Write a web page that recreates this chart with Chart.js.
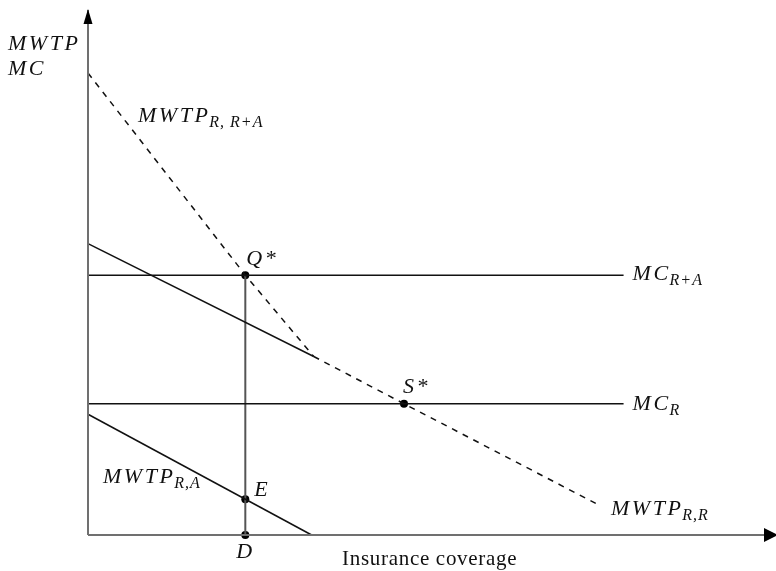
<!DOCTYPE html>
<html>
<head>
<meta charset="utf-8">
<script src="https://cdn.jsdelivr.net/npm/chart.js@4"></script>
<style>
  html, body { margin: 0; padding: 0; background: #fff; }
  #wrap { width: 776px; height: 571px; position: relative; }
</style>
</head>
<body>
<div id="wrap"><canvas id="c"></canvas></div>
<script>
// Insurance coverage (x) against marginal willingness to pay / marginal cost (y)
const coverageMax = 100;
const valueMax = 100;

// marginal cost levels (horizontal lines) and where they stop
const mcRplusA = 49.5;
const mcR = 25;
const mcEndX = 78.3;

// MWTP of the R type under pooling with A (dashed, steep part)
const mwtpRRplusAX = [0, 23, 33];
const mwtpRRplusAY = [88, 49.5, 34];
// MWTP of the R type under separation (dashed, flat part)
const mwtpRRX = [33, 46.2, 75];
const mwtpRRY = [34, 25, 5.5];
// solid demand line ending at the kink
const upperSolidX = [0, 33];
const upperSolidY = [55.5, 34];
// MWTP of R relative to A
const mwtpRAX = [0, 32.7];
const mwtpRAY = [23, 0];

// marked points
const markNames = ['Q*', 'S*', 'E', 'D'];
const markX = [23, 46.2, 23, 23];
const markY = [49.5, 25, 6.82, 0];

const pts = (xs, ys) => xs.map((x, i) => ({ x, y: ys[i] }));

const INK = '#111';
const AXIS = '#707070';
const serif = "'Liberation Serif', 'Times New Roman', serif";
const MAIN_FONT = 'italic 22px ' + serif;
const SUB_FONT = 'italic 16px ' + serif;

function lineSet(data, color, width, dash) {
  return {
    data, showLine: true, borderColor: color, borderWidth: width,
    borderDash: dash || [], pointRadius: 0, fill: false, clip: false,
    tension: 0
  };
}

function pix(chart, x, y) {
  return { x: chart.scales.x.getPixelForValue(x), y: chart.scales.y.getPixelForValue(y) };
}

// label: italic main text with optional italic subscript
function label(ctx, x, y, main, sub, align) {
  ctx.save();
  ctx.fillStyle = '#111';
  ctx.textBaseline = 'alphabetic';
  ctx.textAlign = 'left';
  ctx.font = MAIN_FONT;
  ctx.letterSpacing = '2.5px';
  const w = ctx.measureText(main).width;
  let subW = 0;
  if (sub) {
    ctx.font = SUB_FONT;
    ctx.letterSpacing = '1px';
    subW = ctx.measureText(sub).width;
  }
  const x0 = align === 'center' ? x - (w + subW) / 2 : x;
  ctx.font = MAIN_FONT;
  ctx.letterSpacing = '2.5px';
  ctx.fillText(main, x0, y);
  if (sub) {
    ctx.font = SUB_FONT;
    ctx.letterSpacing = '1px';
    ctx.fillText(sub, x0 + w - 1, y + 5);
  }
  ctx.restore();
}

const decorations = {
  id: 'decorations',
  afterDatasetsDraw(chart) {
    const ctx = chart.ctx;
    const a = chart.chartArea;
    const origin = pix(chart, 0, 0);
    const xEnd = pix(chart, coverageMax, 0);
    const yEnd = pix(chart, 0, valueMax);

    // arrow heads
    ctx.save();
    ctx.fillStyle = '#000';
    ctx.beginPath();
    ctx.moveTo(xEnd.x - 8, origin.y - 7);
    ctx.lineTo(xEnd.x + 6, origin.y);
    ctx.lineTo(xEnd.x - 8, origin.y + 7);
    ctx.closePath();
    ctx.fill();
    ctx.beginPath();
    ctx.moveTo(yEnd.x - 4.5, yEnd.y + 14);
    ctx.lineTo(yEnd.x, yEnd.y - 1);
    ctx.lineTo(yEnd.x + 4.5, yEnd.y + 14);
    ctx.closePath();
    ctx.fill();
    ctx.restore();

    // axis titles
    label(ctx, a.left - 80, a.top + 40, 'MWTP');
    label(ctx, a.left - 80, a.top + 65, 'MC');
    ctx.save();
    ctx.fillStyle = '#111';
    ctx.font = '21px ' + serif;
    ctx.letterSpacing = '0.7px';
    ctx.textBaseline = 'alphabetic';
    ctx.fillText('Insurance coverage', a.left + 254, origin.y + 30);
    ctx.restore();

    // curve labels
    const dStart = pix(chart, mwtpRRplusAX[0], mwtpRRplusAY[0]);
    label(ctx, dStart.x + 50, dStart.y + 49, 'MWTP', 'R, R+A');
    const mcA = pix(chart, mcEndX, mcRplusA);
    label(ctx, mcA.x + 9, mcA.y + 5, 'MC', 'R+A');
    const mcr = pix(chart, mcEndX, mcR);
    label(ctx, mcr.x + 9, mcr.y + 6, 'MC', 'R');
    const dEnd = pix(chart, mwtpRRX[mwtpRRX.length - 1], mwtpRRY[mwtpRRY.length - 1]);
    label(ctx, dEnd.x + 10, dEnd.y + 9, 'MWTP', 'R,R');
    const raStart = pix(chart, mwtpRAX[0], mwtpRAY[0]);
    label(ctx, raStart.x + 15, raStart.y + 69, 'MWTP', 'R,A');

    // point labels
    const q = pix(chart, markX[0], markY[0]);
    label(ctx, q.x + 1, q.y - 10, markNames[0]);
    const s = pix(chart, markX[1], markY[1]);
    label(ctx, s.x - 1, s.y - 11, markNames[1]);
    const e = pix(chart, markX[2], markY[2]);
    label(ctx, e.x + 9, e.y - 3, markNames[2]);
    const d = pix(chart, markX[3], markY[3]);
    label(ctx, d.x, d.y + 23, markNames[3], null, 'center');
  }
};

new Chart(document.getElementById('c'), {
  type: 'scatter',
  data: {
    datasets: [
      // axes
      lineSet([{ x: 0, y: 0 }, { x: coverageMax, y: 0 }], AXIS, 2),
      lineSet([{ x: 0, y: 0 }, { x: 0, y: valueMax }], AXIS, 2),
      // marginal cost lines
      lineSet([{ x: 0, y: mcRplusA }, { x: mcEndX, y: mcRplusA }], INK, 1.5),
      lineSet([{ x: 0, y: mcR }, { x: mcEndX, y: mcR }], INK, 1.5),
      // demand lines
      lineSet(pts(mwtpRRplusAX, mwtpRRplusAY), INK, 1.5, [6, 6]),
      lineSet(pts(mwtpRRX, mwtpRRY), INK, 1.5, [6, 6]),
      lineSet(pts(upperSolidX, upperSolidY), INK, 1.5),
      lineSet(pts(mwtpRAX, mwtpRAY), INK, 1.5),
      // drop line from Q* to D
      lineSet([{ x: markX[0], y: markY[0] }, { x: markX[3], y: markY[3] }], '#555', 2),
      // marked points
      {
        data: pts(markX, markY), showLine: false, pointRadius: 4,
        pointBackgroundColor: '#000', pointBorderColor: '#000', borderWidth: 0, clip: false
      }
    ]
  },
  options: {
    responsive: true,
    maintainAspectRatio: false,
    animation: false,
    events: [],
    layout: { padding: { left: 88, right: 0, top: 10, bottom: 36 } },
    plugins: { legend: { display: false }, tooltip: { enabled: false } },
    scales: {
      x: { type: 'linear', display: false, min: 0, max: coverageMax },
      y: { type: 'linear', display: false, min: 0, max: valueMax }
    }
  },
  plugins: [decorations]
});
</script>
</body>
</html>
